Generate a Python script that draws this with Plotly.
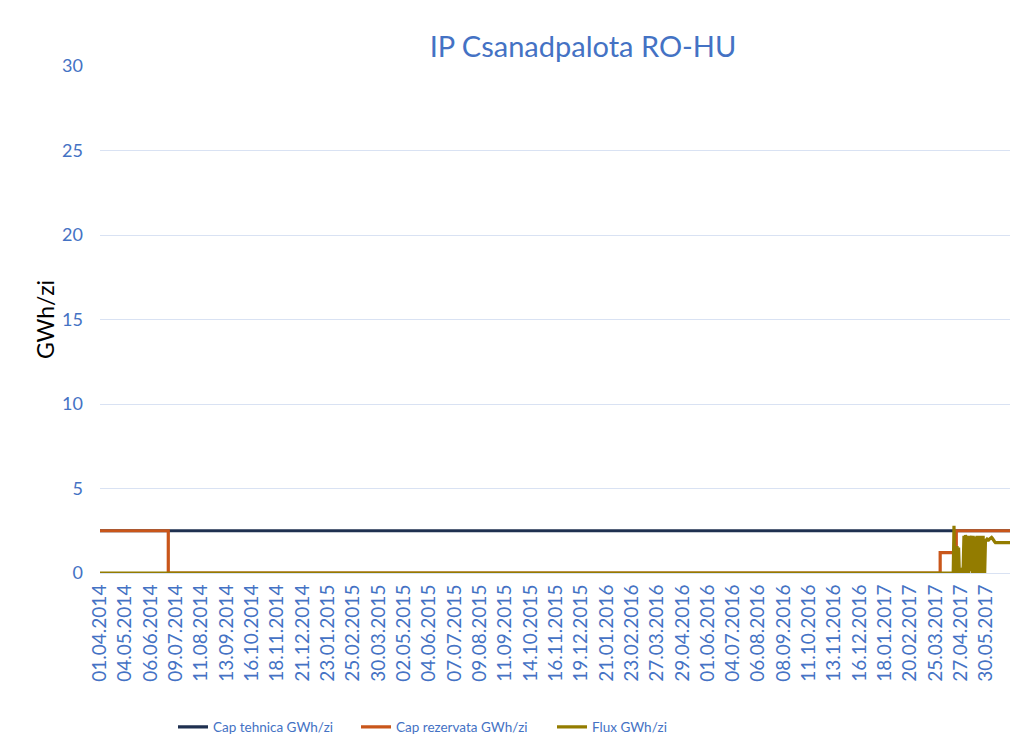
import pandas as pd
import plotly.graph_objects as go

# ---- data ----
tick_labels = [
    "01.04.2014", "04.05.2014", "06.06.2014", "09.07.2014", "11.08.2014", "13.09.2014",
    "16.10.2014", "18.11.2014", "21.12.2014", "23.01.2015", "25.02.2015", "30.03.2015",
    "02.05.2015", "04.06.2015", "07.07.2015", "09.08.2015", "11.09.2015", "14.10.2015",
    "16.11.2015", "19.12.2015", "21.01.2016", "23.02.2016", "27.03.2016", "29.04.2016",
    "01.06.2016", "04.07.2016", "06.08.2016", "08.09.2016", "11.10.2016", "13.11.2016",
    "16.12.2016", "18.01.2017", "20.02.2017", "25.03.2017", "27.04.2017", "30.05.2017",
]

cap_tehnica_dates = ["2014-04-01", "2017-06-30"]
cap_tehnica_vals = [2.5, 2.5]

cap_rezervata_dates = ["2014-04-01", "2014-06-29", "2017-03-31", "2017-04-21", "2017-06-30"]
cap_rezervata_vals = [2.5, 0.0, 1.2, 2.5, 2.5]

flux_start_dates = ["2014-04-01"]
flux_start_vals = [0.0]
# daily values from 2017-04-17 to 2017-06-30
flux_daily_start = "2017-04-17"
flux_daily_vals = [
    # April 17-30
    0, 2.8, 0, 1.6, 0, 1.6, 0.1, 1.5, 0, 0.3, 0, 0.2, 0, 0.4,
    # May
    2.2, 0, 2.25, 2.0, 0, 2.2, 0, 2.2, 0.1, 2.0, 2.2, 0, 2.2, 0, 2.15, 0,
    2.0, 2.2, 0, 2.2, 0, 2.2, 0, 2.1, 0, 2.2, 0, 0, 1.9, 1.95, 2.0,
    # June
    1.95, 1.95, 2.0, 2.05, 2.1, 2.1, 2.05, 1.95, 1.85, 1.85,
    1.8, 1.8, 1.8, 1.82, 1.8, 1.8, 1.8, 1.82, 1.8, 1.8,
    1.8, 1.8, 1.8, 1.8, 1.82, 1.8, 1.8, 1.8, 1.8, 1.8,
]

# ---- build ----
tick_vals = [pd.to_datetime(t, format="%d.%m.%Y") for t in tick_labels]
flux_dates = [pd.Timestamp(d) for d in flux_start_dates] + list(
    pd.date_range(flux_daily_start, periods=len(flux_daily_vals), freq="D")
)
flux_vals = flux_start_vals + flux_daily_vals

BLUE = "#4472C4"
FONT = "Lato"

fig = go.Figure()
fig.add_trace(go.Scatter(
    x=pd.to_datetime(cap_tehnica_dates), y=cap_tehnica_vals, mode="lines",
    name="Cap tehnica GWh/zi", line=dict(color="#1F3050", width=3.2), legend="legend",
))
fig.add_trace(go.Scatter(
    x=pd.to_datetime(cap_rezervata_dates), y=cap_rezervata_vals, mode="lines",
    name="Cap rezervata GWh/zi", line=dict(color="#C9561A", width=3.2, shape="hv"),
    legend="legend2",
))
fig.add_trace(go.Scatter(
    x=flux_dates, y=flux_vals, mode="lines",
    name="Flux GWh/zi", line=dict(color="#937C00", width=3.2), legend="legend3",
))

def leg(xpx):
    return dict(orientation="h", x=xpx / 1014, xanchor="left", xref="container",
                y=1 - 727 / 755, yanchor="middle", yref="container",
                bgcolor="rgba(0,0,0,0)",
                font=dict(family=FONT, size=13.5, color=BLUE), itemwidth=30)

fig.update_layout(
    width=1014, height=755,
    margin=dict(l=100, r=4, t=66, b=182),
    paper_bgcolor="white", plot_bgcolor="white",
    font=dict(family=FONT, color=BLUE),
    title=dict(text="IP Csanadpalota RO-HU", x=583 / 1014, xanchor="center",
               xref="container", y=1 - 47 / 755, yanchor="middle", yref="container",
               font=dict(family=FONT, size=29, color=BLUE)),
    showlegend=True,
    legend=leg(173), legend2=leg(356), legend3=leg(552),
)
fig.update_xaxes(
    type="date", range=[pd.Timestamp("2014-04-01"), pd.Timestamp("2017-06-30")],
    tickmode="array", tickvals=tick_vals, ticktext=tick_labels, tickangle=-90,
    tickfont=dict(family=FONT, size=19, color=BLUE), showgrid=False,
    zeroline=False, showline=True, linecolor="#D9E2F3", linewidth=1,
    ticks="", ticklabelstandoff=3,
)
fig.update_yaxes(
    range=[0, 30], dtick=5, tick0=0, showgrid=True, gridcolor="#D9E2F3", gridwidth=1,
    zeroline=False, showline=False, ticks="",
    tickfont=dict(family=FONT, size=18, color=BLUE), ticklabelstandoff=16,
    title=dict(text="GWh/zi", font=dict(family=FONT, size=23, color="black"), standoff=1),
)

fig.write_html("out.html", config={"displayModeBar": False},
               post_script="document.body.style.margin='0';")
